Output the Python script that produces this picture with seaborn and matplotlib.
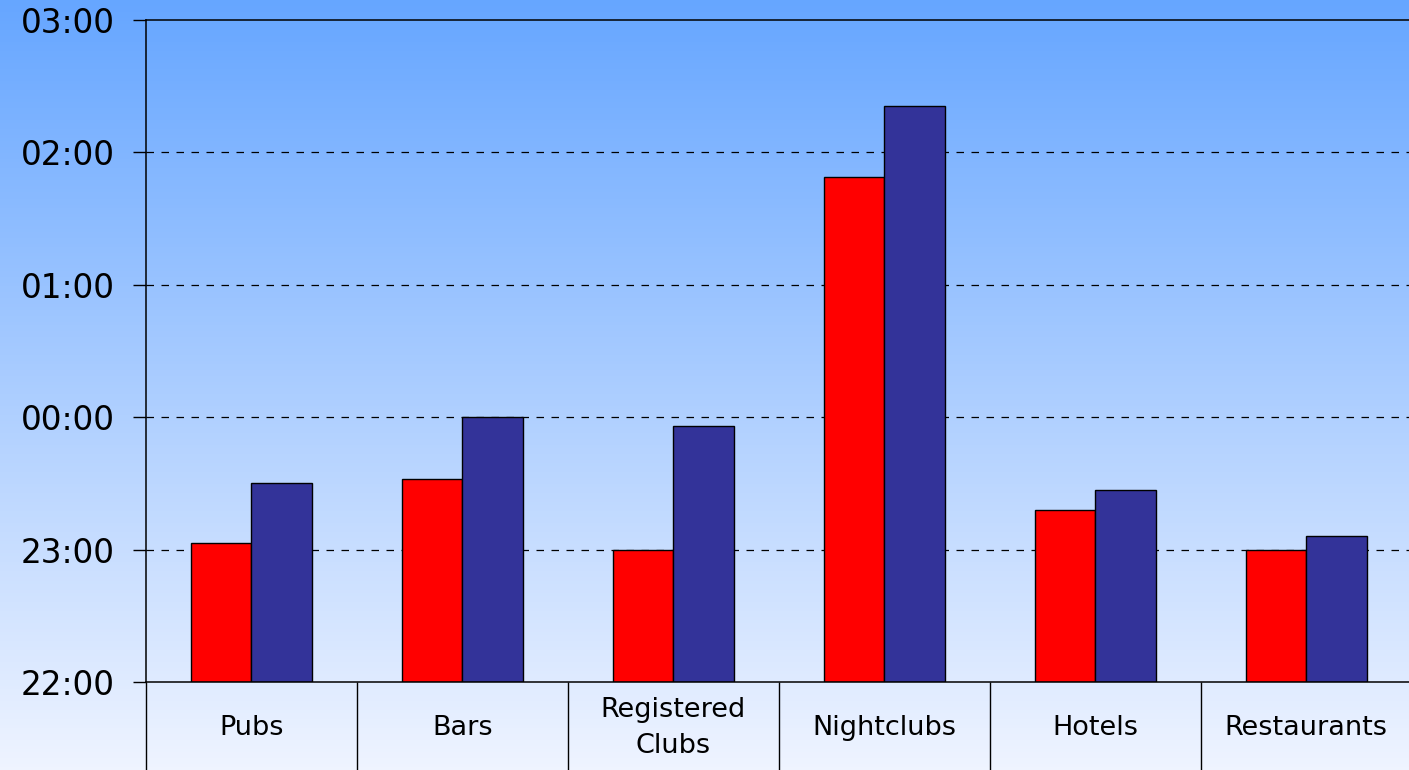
import matplotlib.pyplot as plt
import numpy as np
import pandas as pd
import seaborn as sns
from matplotlib.colors import LinearSegmentedColormap

# -- Data (times, axis starts at 22:00)
venues = ["Pubs", "Bars", "Registered\nClubs", "Nightclubs", "Hotels", "Restaurants"]
series_names = ["Series 1", "Series 2"]
series_1_times = ["23:03", "23:32", "23:00", "01:49", "23:18", "23:00"]
series_2_times = ["23:30", "00:00", "23:56", "02:21", "23:27", "23:06"]
tick_labels = ["22:00", "23:00", "00:00", "01:00", "02:00", "03:00"]
bar_colors = ["#ff0000", "#333399"]


def hours_after_22(t):
    h, m = (int(p) for p in t.split(":"))
    return (h - 22) % 24 + m / 60


df = pd.DataFrame({
    "Venue": venues * 2,
    "Series": [series_names[0]] * len(venues) + [series_names[1]] * len(venues),
    "Time": [hours_after_22(t) for t in series_1_times + series_2_times],
})

sns.set_theme(style="white")
plt.rcParams["font.family"] = ["DejaVu Sans"]
plt.rcParams["text.color"] = "black"
plt.rcParams["xtick.color"] = "black"
plt.rcParams["ytick.color"] = "black"

fig = plt.figure(figsize=(14.09, 7.70), dpi=100)

# -- Gradient background over the whole figure
bg = fig.add_axes([0, 0, 1, 1], zorder=-1)
cmap = LinearSegmentedColormap.from_list("sky", ["#66a6ff", "#eff4ff"])
bg.imshow(np.linspace(0, 1, 256).reshape(-1, 1), aspect="auto", cmap=cmap,
          extent=[0, 1, 0, 1], origin="upper")
bg.set_axis_off()

ax = fig.add_axes([146 / 1409, 88 / 770, 1 - 146 / 1409 + 0.002, 662 / 770])
ax.set_facecolor("none")

sns.barplot(data=df, x="Venue", y="Time", hue="Series", palette=bar_colors,
            width=0.575, edgecolor="black", linewidth=1, saturation=1,
            legend=False, ax=ax)

ax.set_ylim(0, 5)
ax.set_xlim(-0.5, len(venues) - 0.5)
ax.set_yticks(range(len(tick_labels)))
ax.set_yticklabels(tick_labels, fontsize=23.5, color="black")
ax.tick_params(axis="y", direction="out", length=9.5, width=1, color="black",
               left=True, pad=13)

# dashed hour gridlines
for y in range(1, 5):
    ax.axhline(y, color="black", linestyle=(0, (6, 6)), linewidth=0.9, zorder=0)

# category labels at centres, long separators at the boundaries
ax.set_xticks(range(len(venues)))
ax.set_xticklabels(venues, fontsize=19.5, linespacing=1.5, color="black")
plt.setp(ax.get_xticklabels(), va="center")
ax.tick_params(axis="x", which="major", length=0, pad=33)
ax.set_xticks(np.arange(-0.5, len(venues)), minor=True)
ax.tick_params(axis="x", which="minor", direction="out", length=70, width=1,
               color="black", bottom=True)

for side in ["left", "top", "bottom"]:
    ax.spines[side].set_visible(True)
    ax.spines[side].set_color("black")
    ax.spines[side].set_linewidth(1.1)
ax.spines["right"].set_visible(False)

ax.set_xlabel("")
ax.set_ylabel("")

fig.savefig("out.png", dpi=100)
